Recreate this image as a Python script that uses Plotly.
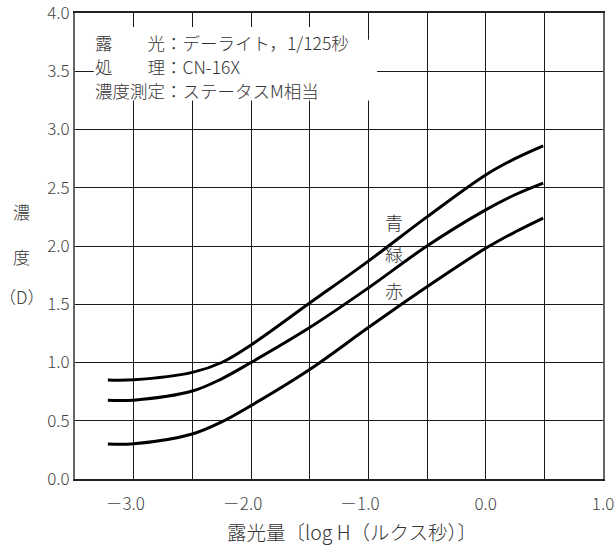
import plotly.graph_objects as go

# log H (lux-seconds)
log_h = [-3.22, -3.0, -2.5, -2.25, -2.0, -1.5, -1.0, -0.5, 0.0, 0.25, 0.49]
blue = [0.85, 0.852, 0.915, 1.0, 1.15, 1.51, 1.87, 2.25, 2.61, 2.75, 2.86]
green = [0.675, 0.677, 0.755, 0.86, 1.0, 1.30, 1.64, 2.0, 2.31, 2.44, 2.54]
red = [0.30, 0.302, 0.386, 0.49, 0.63, 0.94, 1.30, 1.65, 1.98, 2.12, 2.24]

series_names = ["青", "緑", "赤"]
x_tickvals = [-3.5, -3.0, -2.5, -2.0, -1.5, -1.0, -0.5, 0.0, 0.5, 1.0]
x_ticktext = ["", "－3.0\u3000", "", "－2.0\u3000", "", "－1.0\u3000", "", "0.0", "", "1.0"]
y_tickvals = [0.0, 0.5, 1.0, 1.5, 2.0, 2.5, 3.0, 3.5, 4.0]
y_ticktext = ["0.0", "0.5", "1.0", "1.5", "2.0", "2.5", "3.0", "3.5", "4.0"]

CJK = "Noto Sans CJK JP"
TXT = "#333333"

fig = go.Figure()
for name, ys in zip(series_names, [blue, green, red]):
    fig.add_trace(go.Scatter(x=log_h, y=ys, mode="lines", name=name,
                             line=dict(color="black", width=3, shape="spline", smoothing=1.0),
                             showlegend=False, hoverinfo="skip"))

# white box behind the info text
fig.add_shape(type="rect", x0=-3.34, x1=-1.1, y0=3.25, y1=3.88, xref="x", yref="y",
              fillcolor="white", line=dict(width=0), layer="above")
fig.add_shape(type="rect", x0=-1.12, x1=-0.925, y0=3.25, y1=3.77, xref="x", yref="y",
              fillcolor="white", line=dict(width=0), layer="above")

info_lines = ["露　　光：デーライト，1/125秒", "処　　理：CN-16X", "濃度測定：ステータスM相当"]
info_y = [3.751, 3.545, 3.339]
for line, ly in zip(info_lines, info_y):
    fig.add_annotation(x=-3.35, y=ly, xref="x", yref="y", text=line,
                       showarrow=False, xanchor="left", yanchor="middle",
                       font=dict(family=CJK, size=17.5, color=TXT, weight=300))

# curve labels
label_pos = [(-0.78, 2.21), (-0.78, 1.94), (-0.78, 1.62)]
for name, (lx, ly) in zip(series_names, label_pos):
    fig.add_annotation(x=lx, y=ly, xref="x", yref="y", text=name, showarrow=False,
                       font=dict(family=CJK, size=18, color=TXT, weight=300))

# y-axis title, stacked
for txt, py in [("濃", 212), ("度", 256), ("（D）", 296)]:
    fig.add_annotation(x=(21 - 75) / 528, y=(479 - py) / 466, xref="paper", yref="paper",
                       text=txt, showarrow=False, xanchor="center", yanchor="middle",
                       font=dict(family=CJK, size=17, color=TXT, weight=300))

# x-axis title
fig.add_annotation(x=(352 - 75) / 528, y=(479 - 531) / 466, xref="paper", yref="paper",
                   text="露光量〔log H（ルクス秒）〕", showarrow=False,
                   xanchor="center", yanchor="middle",
                   font=dict(family=CJK, size=19.5, color=TXT, weight=300))

fig.update_layout(
    width=616, height=545,
    margin=dict(l=75, r=13, t=13, b=66, autoexpand=False),
    paper_bgcolor="white", plot_bgcolor="white",
    font=dict(family=CJK, size=15, color="#444444"),
)
fig.update_xaxes(range=[-3.5, 1.0], tickvals=x_tickvals, ticktext=x_ticktext,
                 showgrid=True, gridcolor="#1a1a1a", gridwidth=1,
                 showline=True, linecolor="#222222", linewidth=1.5, mirror=True,
                 ticks="", zeroline=False, automargin=False,
                 ticklabelstandoff=9, ticklabeloverflow="allow",
                 tickfont=dict(size=17, color="#444444", weight=300))
fig.update_yaxes(range=[0, 4.0], tickvals=y_tickvals, ticktext=y_ticktext,
                 showgrid=True, gridcolor="#1a1a1a", gridwidth=1,
                 showline=True, linecolor="#666666", linewidth=1.8, mirror=True,
                 ticks="", zeroline=False, automargin=False,
                 ticklabeloverflow="allow",
                 tickfont=dict(size=17, color="#444444", weight=300))

fig.write_html("out.html", config={"displayModeBar": False},
               post_script="document.body.style.margin='0px';document.body.style.overflow='hidden';")
